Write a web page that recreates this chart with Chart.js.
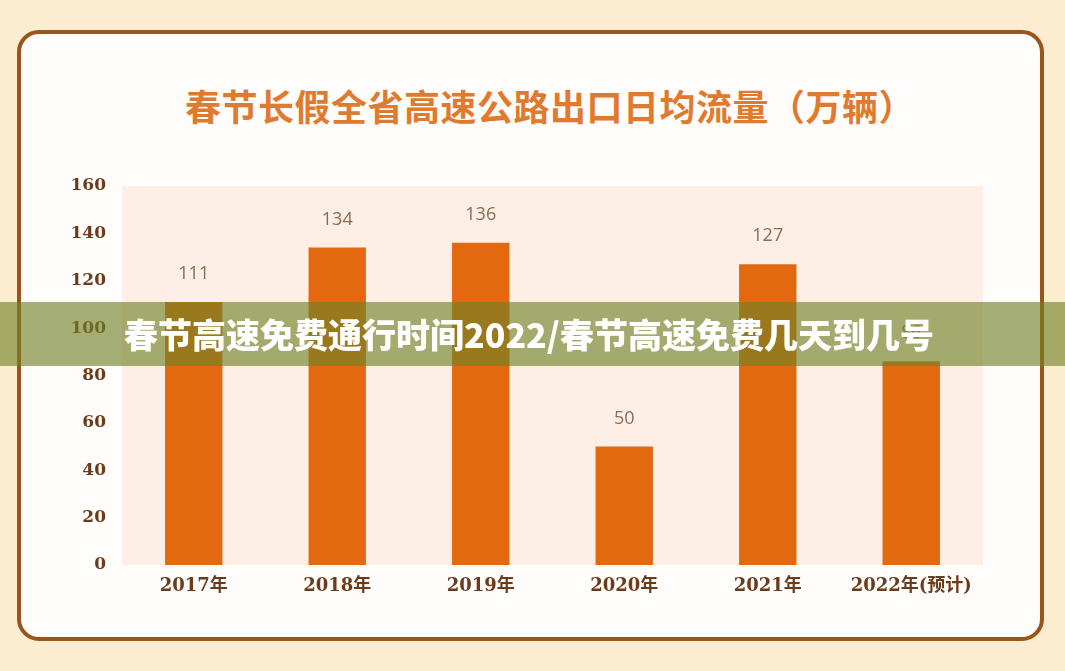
<!DOCTYPE html>
<html>
<head>
<meta charset="utf-8">
<script src="https://cdn.jsdelivr.net/npm/chart.js@4"></script>
<style>
  html, body { margin: 0; padding: 0; }
  body { width: 1065px; height: 671px; background: #fcecd0; position: relative; overflow: hidden; }
  .frame { position: absolute; left: 17px; top: 30px; width: 1019px; height: 603px;
           border: 4px solid #9a5518; border-radius: 22px; background: #fffdfb; }
  .title { position: absolute; left: 0; width: 1100px; top: 79px; text-align: center;
           font: 700 36px "Noto Sans CJK SC", sans-serif; color: #e07a2e; letter-spacing: 0.5px; }
  #wrap { position: absolute; left: 0; top: 0; width: 1065px; height: 671px; }
  .banner { position: absolute; left: 0; top: 302px; width: 1065px; height: 64px;
            background: rgba(113,130,38,0.63); color: #fff;
            font: 900 34px "Noto Sans CJK SC", sans-serif; line-height: 64px; padding-left: 124px; box-sizing: border-box; }
</style>
</head>
<body>
<div class="frame"></div>
<div class="title">春节长假全省高速公路出口日均流量（万辆）</div>
<div id="wrap"><canvas id="chart"></canvas></div>
<div class="banner">春节高速免费通行时间2022/春节高速免费几天到几号</div>
<script>
// 数据
const YEARS = ['2017年', '2018年', '2019年', '2020年', '2021年', '2022年(预计)'];
const FLOW = [111, 134, 136, 50, 127, 86];
const Y_TICKS = [0, 20, 40, 60, 80, 100, 120, 140, 160];

const TICK_COLOR = '#6b3c1c';

// 绘图区底色
const plotBg = {
  id: 'plotBg',
  beforeDraw(chart) {
    const { ctx, chartArea: a } = chart;
    ctx.save();
    ctx.fillStyle = '#fdefe6';
    ctx.fillRect(a.left, a.top, a.right - a.left, a.bottom - a.top);
    ctx.restore();
  },
};

// 柱顶数值
const barValues = {
  id: 'barValues',
  afterDatasetsDraw(chart) {
    const { ctx } = chart;
    const meta = chart.getDatasetMeta(0);
    ctx.save();
    ctx.fillStyle = '#8a6c52';
    ctx.font = '18px "Open Sans", sans-serif';
    ctx.textAlign = 'center';
    ctx.textBaseline = 'middle';
    meta.data.forEach((bar, i) => {
      ctx.fillText(String(FLOW[i]), bar.x, bar.y - 28);
    });
    ctx.restore();
  },
};

new Chart(document.getElementById('chart'), {
  type: 'bar',
  data: {
    labels: YEARS,
    datasets: [{
      data: FLOW,
      backgroundColor: '#e2690f',
      borderWidth: 0,
      barPercentage: 0.4,
      categoryPercentage: 1,
    }],
  },
  options: {
    responsive: true, maintainAspectRatio: false, animation: false,
    layout: { padding: { left: 0, right: 82, top: 186, bottom: 0 } },
    plugins: { legend: { display: false }, tooltip: { enabled: false } },
    scales: {
      x: {
        grid: { display: false, drawTicks: false },
        border: { display: false },
        ticks: {
          color: TICK_COLOR, padding: 11, maxRotation: 0, minRotation: 0, autoSkip: false,
          font: { family: '"DejaVu Serif", "Noto Sans CJK SC", serif', weight: 'bold', size: 18 },
        },
        afterFit(s) { s.height = 106; },
      },
      y: {
        min: 0, max: 160,
        grid: { display: false, drawTicks: false },
        border: { display: false },
        afterBuildTicks(s) { s.ticks = Y_TICKS.map(v => ({ value: v })); },
        ticks: { color: TICK_COLOR, padding: 16, font: { family: '"DejaVu Serif", serif', weight: 'bold', size: 17 } },
        afterFit(s) { s.width = 122; },
      },
    },
  },
  plugins: [plotBg, barValues],
});
</script>
</body>
</html>
